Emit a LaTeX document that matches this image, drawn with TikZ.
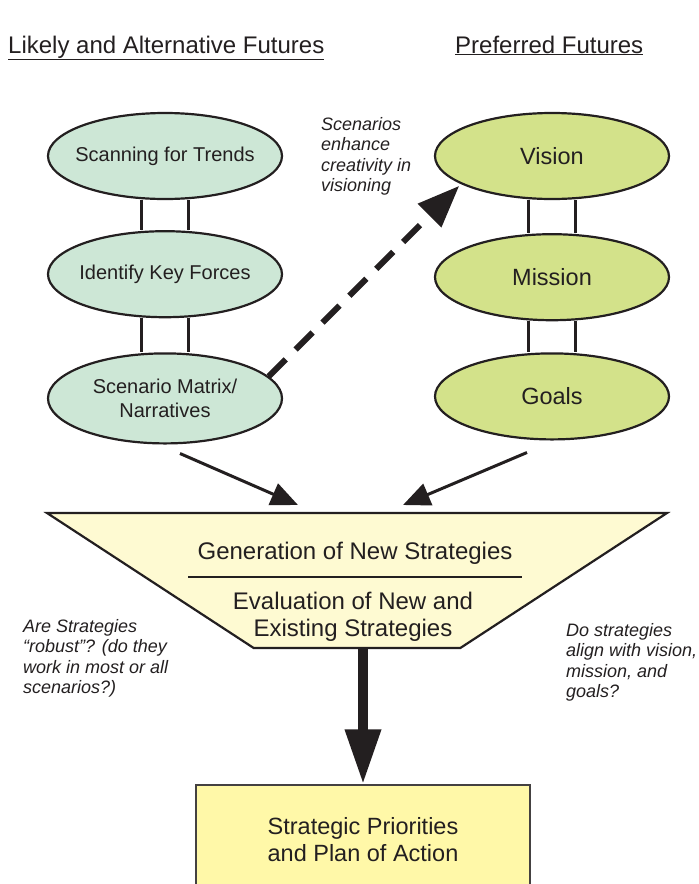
\documentclass[tikz,border=0pt]{standalone}
\usepackage{fontspec}
\setmainfont{Liberation Sans}
\usetikzlibrary{arrows.meta,positioning,shapes.geometric}
\definecolor{ink}{HTML}{231F20}
\definecolor{mint}{HTML}{CDE7D6}
\definecolor{lime}{HTML}{D3E28A}
\definecolor{cream}{HTML}{FEFAD2}
\definecolor{butter}{HTML}{FFF8A8}

\begin{document}
\begin{tikzpicture}[
    x=1pt, y=-1pt,
    color=ink,
    node distance=30pt,
    trend/.style={
        draw=ink,
        fill=mint,
        ellipse,
        line width=2.2pt,
        minimum width=234pt,
        minimum height=86pt,
        inner sep=0pt,
        inner xsep=-12pt,
        align=center,
        font=\fontsize{20}{24.5}\selectfont
    },
    pref/.style={
        trend,
        fill=lime,
        font=\fontsize{23.5}{28}\selectfont
    },
    heading/.style={anchor=base west, inner sep=0pt, font=\fontsize{24}{28}\selectfont},
    note/.style={anchor=north west, inner sep=0pt, align=left, font=\itshape\fontsize{18}{20.5}\selectfont},
    funnel/.style={
        draw=ink,
        fill=cream,
        line width=2.2pt,
        trapezium,
        trapezium angle=45,
        trapezium stretches=true,
        shape border rotate=180,
        minimum width=620pt,
        minimum height=135pt
    },
    planbox/.style={
        draw=ink!85,
        fill=butter,
        line width=1.5pt,
        minimum width=334pt,
        minimum height=110pt,
        align=center,
        font=\fontsize{23.5}{27}\selectfont
    },
    inner/.style={align=center, inner sep=0pt, font=\fontsize{24}{27}\selectfont},
    rail/.style={line width=2.5pt},
    arr/.style={-{Triangle[length=27pt,width=23pt]}, line width=3pt},
    dasharr/.style={-{Triangle[length=42pt,width=32pt]}, line width=6pt, dash pattern=on 24pt off 14pt},
    bigarr/.style={-{Triangle[length=55pt,width=34pt]}, line width=10pt}
]
    \useasboundingbox (0,0) rectangle (699,884);
    %% Headings
    \node[heading] (likely) at (8,53) {\underline{Likely and Alternative Futures}};
    \node[heading] (preferred) at (455,53) {\underline{Preferred Futures}};
    %% Left column
    \node[trend] (scan) at (165,156) {Scanning for Trends};
    \node[trend, below=of scan] (forces) {Identify Key Forces};
    \node[trend, below=34pt of forces, minimum height=90pt] (matrix) {Scenario Matrix/\\Narratives};
    %% Right column
    \node[pref] (vision) at (552,156) {Vision};
    \node[pref, below=33pt of vision] (mission) {Mission};
    \node[pref, below=31pt of mission] (goals) {Goals};
    %% Funnel and plan
    \node[funnel] (funnel) at (357,580.5) {};
    \node[inner] (gen) at (355,553) {Generation of New Strategies};
    \node[inner] (eval) at (353,617) {Evaluation of New and\\Existing Strategies};
    \coordinate (ruleL) at (188,577);
    \coordinate (ruleR) at (522,577);
    \draw[line width=2pt] (ruleL) -- (ruleR);
    \node[planbox] (plan) at (363,840) {Strategic Priorities\\and Plan of Action};
    %% Notes
    \node[note] (enhance) at (321,117) {Scenarios\\enhance\\creativity in\\visioning};
    \node[note] (robust) at (23,619) {Are Strategies\\``robust''? (do they\\work in most or all\\scenarios?)};
    \node[note] (align) at (566,623) {Do strategies\\align with vision,\\mission, and\\goals?};

    %% Links
    \foreach \a/\b in {scan/forces, forces/matrix, vision/mission, mission/goals} {
        \draw[rail] ([xshift=-23.5pt]\a.south) -- ([xshift=-23.5pt]\b.north);
        \draw[rail] ([xshift=23.5pt]\a.south) -- ([xshift=23.5pt]\b.north);
    }
    \draw[dasharr] (matrix.12) -- ([shift={(-6,0)}]vision.199);
    \draw[arr] ([shift={(15,9)}]matrix.south) -- ([shift={(-59,-75.5)}]funnel.center);
    \draw[arr] ([shift={(-25,12)}]goals.south) -- ([shift={(46,-75.5)}]funnel.center);
    \draw[bigarr] (plan.north |- funnel.south) -- (plan.north);
\end{tikzpicture}
\end{document}
